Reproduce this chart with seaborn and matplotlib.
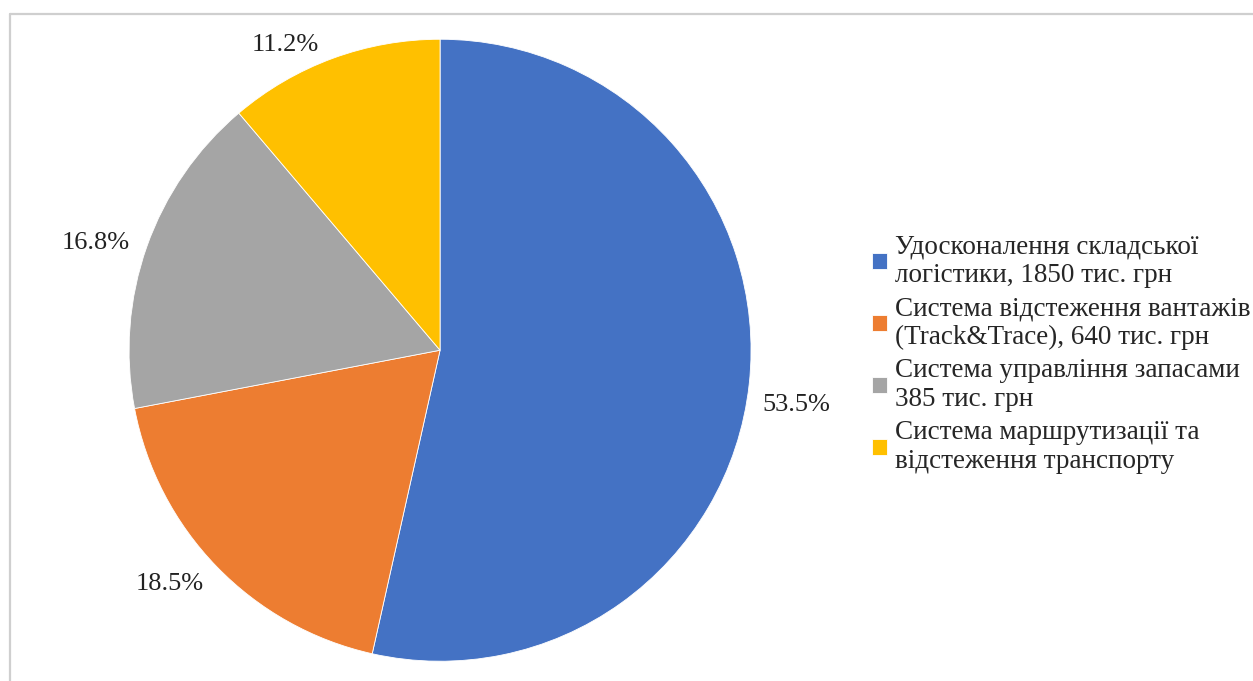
import matplotlib
matplotlib.use("Agg")
import matplotlib.pyplot as plt
import seaborn as sns
import numpy as np

# data
categories = [
    "Удосконалення складської\nлогістики, 1850 тис. грн",
    "Система відстеження вантажів\n(Track&Trace), 640 тис. грн",
    "Система управління запасами\n385 тис. грн",
    "Система маршрутизації та\nвідстеження транспорту",
]
shares = [53.5, 18.5, 16.8, 11.2]
share_labels = ["53.5%", "18.5%", "16.8%", "11.2%"]
colors = ["#4472C4", "#ED7D31", "#A5A5A5", "#FFC000"]

# label placement (Excel "best fit" look): radius factor and angle nudge
label_dist = [1.16, 1.15, 1.16, 1.10]
label_nudge = [-2.4, -3.3, 2.2, 6.8]

sns.set_theme(style="white")
plt.rcParams["font.family"] = ["Liberation Serif", "DejaVu Serif"]

fig = plt.figure(figsize=(12.53, 6.81), dpi=100)
ax = fig.add_axes([0.103, 0.029, 0.4964, 0.9134])

wedges, texts = ax.pie(shares, labels=share_labels, colors=colors,
                       startangle=90, counterclock=False,
                       wedgeprops={"edgecolor": "white", "linewidth": 0.6},
                       textprops={"fontsize": 19, "color": "#222222"})
for w, t, d, n in zip(wedges, texts, label_dist, label_nudge):
    mid = np.deg2rad((w.theta1 + w.theta2) / 2 + n)
    t.set_position((d * np.cos(mid), d * np.sin(mid)))
    t.set_ha("center")
    t.set_va("center")
ax.set_xlim(-1, 1)
ax.set_ylim(-1, 1)
ax.set_aspect("equal")
ax.axis("off")

fig.legend(wedges, categories, loc="center left",
           bbox_to_anchor=(872 / 1253, 1 - 354 / 681),
           frameon=False, fontsize=19.5, handlelength=0.55, handleheight=0.55,
           handletextpad=0.3, labelspacing=0.3, borderpad=0,
           borderaxespad=0)

# outer chart frame, visible only on top and left
frame_color = "#cfcfcf"
fig.add_artist(plt.Line2D([10 / 1253, 1.0], [1 - 14 / 681, 1 - 14 / 681],
                          transform=fig.transFigure, color=frame_color, lw=1.6))
fig.add_artist(plt.Line2D([10 / 1253, 10 / 1253], [0.0, 1 - 14 / 681],
                          transform=fig.transFigure, color=frame_color, lw=1.6))

fig.savefig("out.png", dpi=100, facecolor="white")
